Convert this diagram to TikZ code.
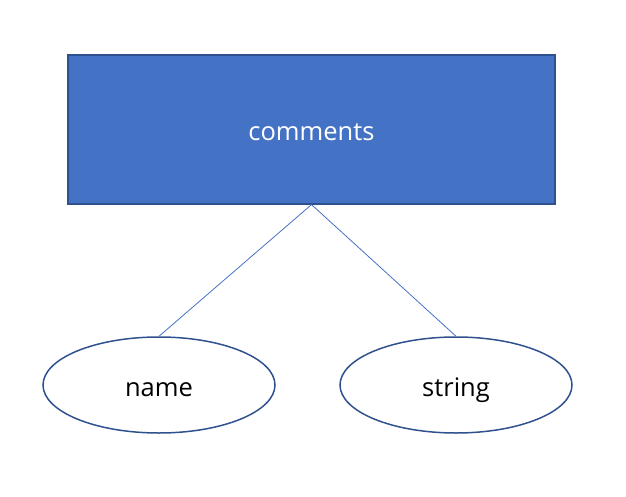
\documentclass[tikz,border=0pt]{standalone}
\usepackage{fontspec}
\setmainfont{Open Sans}
\usetikzlibrary{shapes.geometric}
\definecolor{boxfill}{HTML}{4472C4}
\definecolor{boxedge}{HTML}{2F528F}
\begin{document}
\begin{tikzpicture}[x=1pt,y=-1pt,
  lbl/.style={font=\fontsize{25.5}{30}\selectfont,text height=22pt,text depth=0pt},
  entity/.style={lbl,rectangle,draw=boxedge,fill=boxfill,line width=1.2pt,minimum width=487pt,minimum height=149pt,inner sep=0pt,text=white},
  attr/.style={lbl,ellipse,draw=boxedge,line width=1.5pt,minimum width=232pt,minimum height=96pt,inner sep=0pt},
  link/.style={draw=boxfill,line width=0.8pt}]
\useasboundingbox (0,0) rectangle (626,497);
\node[entity] (c) at (311.5,129.5) {comments};
\node[attr] (n) at (159,385) {name};
\node[attr] (s) at (456,385) {string};
\draw[link] (c.south) -- (n.north);
\draw[link] (c.south) -- (s.north);
\end{tikzpicture}
\end{document}
